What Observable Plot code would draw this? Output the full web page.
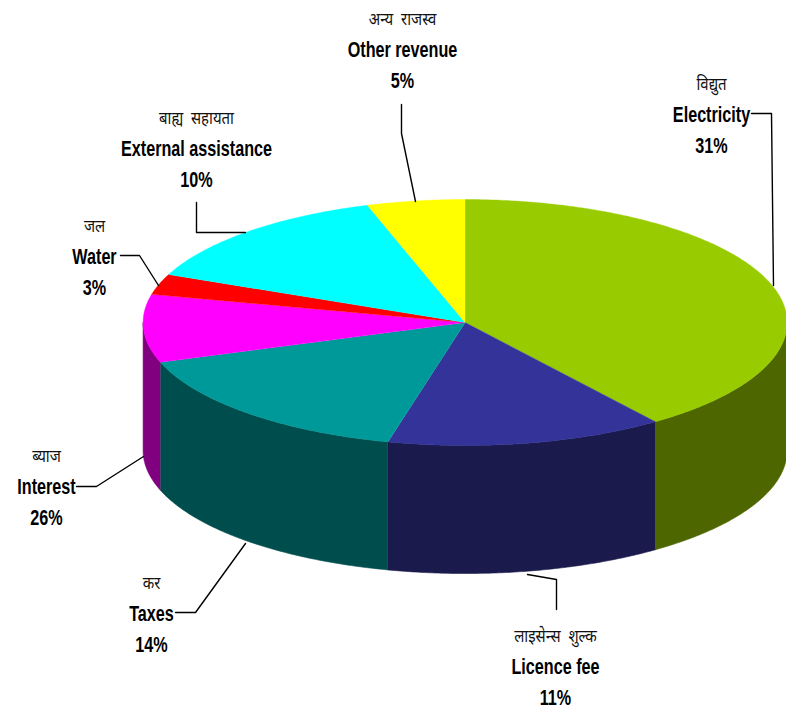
<!DOCTYPE html>
<html>
<head>
<meta charset="utf-8">
<script src="https://cdn.jsdelivr.net/npm/d3@7"></script>
<script src="https://cdn.jsdelivr.net/npm/@observablehq/plot@0.6"></script>
<style>html,body{margin:0;padding:0;background:#fff;overflow:hidden}svg{display:block}</style>
</head>
<body>
<div id="chart"></div>
<script>
// Data
const categories = ["Electricity", "Licence fee", "Taxes", "Interest", "Water", "External assistance", "Other revenue"];
const nepaliNames = ["विद्युत", "लाइसेन्स\u00a0\u00a0शुल्क", "कर", "ब्याज", "जल", "बाह्य\u00a0\u00a0सहायता", "अन्य\u00a0\u00a0राजस्व"];
const printedPercent = [31, 11, 14, 26, 3, 10, 5];
// The drawn slice sizes differ from the printed percentages; these are the drawn ones.
const drawnShare = [39.9, 13.9, 15.9, 8.9, 2.7, 13.7, 4.9];
const topColors = ["#99CC00", "#333399", "#009999", "#FF00FF", "#FF0000", "#00FFFF", "#FFFF00"];
const sideColors = ["#4D6600", "#1A1A4D", "#004D4D", "#800080", "#800000", "#008080", "#808000"];

// Layout of the pie
const W = 786, H = 709;
const pie = {cx: 464.6, cy: 322, rx: 322, ry: 123, depth: 128};
const labelCentres = [[711, 84], [555, 636], [151, 583], [46, 456], [94, 226], [196, 118], [402, 19]];
const lineGap = 30.5;
const leaders = [
  [[751, 113], [771, 113], [773, 285]],
  [[527, 574], [556, 579], [556, 609]],
  [[175, 612], [195, 612], [245, 543]],
  [[76, 486], [96, 486], [143, 456]],
  [[120, 255], [139, 255], [158, 285]],
  [[196, 202], [196, 232], [245, 232]],
  [[401, 104], [401, 133], [415, 201]]
];

const total = d3.sum(drawnShare);
const cum = d3.cumsum(drawnShare).map(v => v / total * 2 * Math.PI);
const starts = [0, ...cum.slice(0, -1)];
const rim = (a, dz = 0) => ({x: pie.cx + pie.rx * Math.sin(a), y: pie.cy - pie.ry * Math.cos(a) + dz});
const arc = (a0, a1, dz = 0) => {
  const n = Math.max(2, Math.ceil((a1 - a0) / 0.01));
  return d3.range(n + 1).map(i => rim(a0 + (a1 - a0) * i / n, dz));
};

const marks = [];
// Side walls: only the front half faces the viewer
categories.forEach((c, i) => {
  const a0 = Math.max(starts[i], Math.PI / 2), a1 = Math.min(cum[i], 3 * Math.PI / 2);
  if (a1 <= a0) return;
  const wall = [...arc(a0, a1), ...arc(a0, a1, pie.depth).reverse()];
  marks.push(Plot.line(wall, {x: "x", y: "y", fill: sideColors[i], stroke: sideColors[i], strokeWidth: 0.6}));
});
// Top faces
categories.forEach((c, i) => {
  const face = [{x: pie.cx, y: pie.cy}, ...arc(starts[i], cum[i])];
  marks.push(Plot.line(face, {x: "x", y: "y", fill: topColors[i], stroke: topColors[i], strokeWidth: 0.4}));
});
// Leader lines
leaders.forEach(l => {
  marks.push(Plot.line(l.map(([x, y]) => ({x, y})), {x: "x", y: "y", stroke: "#000", strokeWidth: 1.4}));
});
// Labels
const rows = categories.map((c, i) => ({name: c, np: nepaliNames[i], pct: printedPercent[i] + "%", cx: labelCentres[i][0], cy: labelCentres[i][1]}));
const latin = "'Liberation Sans',Arial,sans-serif";
marks.push(Plot.text(rows, {x: "cx", y: "cy", text: "np", fontSize: 17, fill: "#111", className: "np", fontFamily: "'Noto Sans Devanagari','Noto Sans','DejaVu Sans',sans-serif"}));
marks.push(Plot.text(rows, {x: "cx", y: d => d.cy + lineGap, text: "name", fontSize: 22, fontWeight: "bold", fill: "#000", className: "en", fontFamily: latin}));
marks.push(Plot.text(rows, {x: "cx", y: d => d.cy + 2 * lineGap, text: "pct", fontSize: 22, fontWeight: "bold", fill: "#000", className: "en", fontFamily: latin}));

const chart = Plot.plot({
  width: W, height: H,
  margin: 0,
  x: {domain: [0, W], range: [0, W], axis: null},
  y: {domain: [0, H], range: [0, H], axis: null},
  style: {background: "#fff"},
  marks
});
document.getElementById("chart").append(chart);

// No narrow face is installed, so condense the glyphs to the reference's width
const condense = (selector, k) => chart.querySelectorAll(selector + " text").forEach(t => {
  t.setAttribute("textLength", t.getComputedTextLength() * k);
  t.setAttribute("lengthAdjust", "spacingAndGlyphs");
});
condense(".en", 0.735);
condense(".np", 0.88);
</script>
</body>
</html>
